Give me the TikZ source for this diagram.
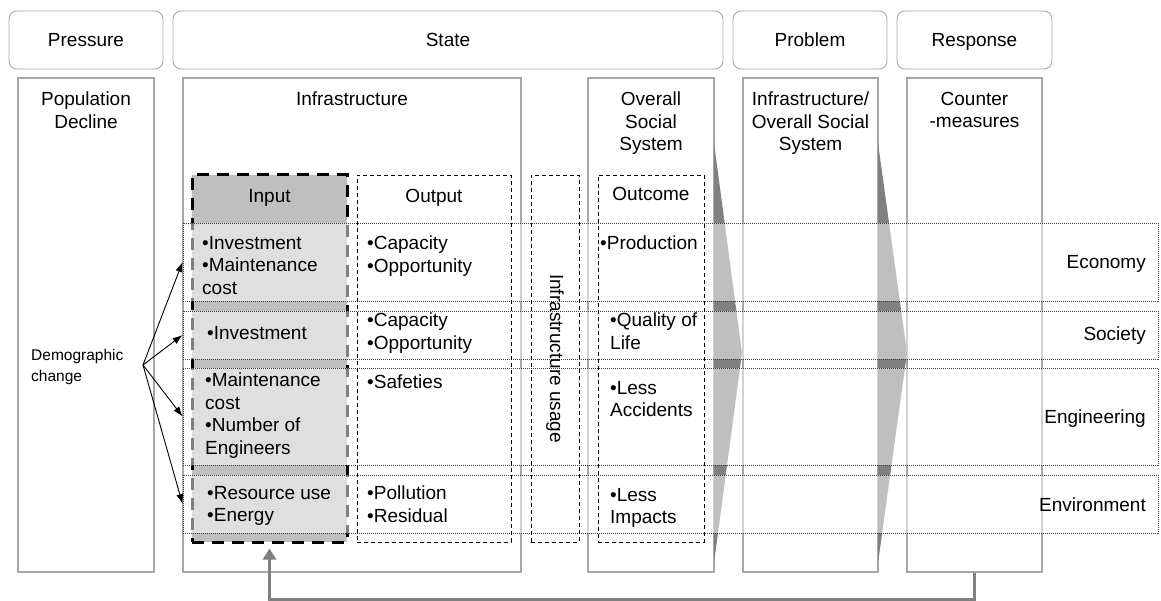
\documentclass[tikz,border=0pt]{standalone}
\usepackage{fontspec}
\setmainfont{Liberation Sans}
\usetikzlibrary{arrows.meta, positioning, fit}
\definecolor{frame}{HTML}{A6A6A6}
\definecolor{wedge}{HTML}{808080}
\definecolor{inputfill}{HTML}{BFBFBF}

\begin{document}
\begin{tikzpicture}[
      x=1pt, y=-1pt, >=Latex,
      every node/.style={font=\fontsize{19}{22.5}\selectfont},
      hdr/.style={draw=frame, rounded corners=8pt, line width=0.9pt, inner sep=0pt},
      hdrtext/.style={text height=13.6pt, text depth=0pt, inner sep=0pt},
      col/.style={draw=frame, line width=1.2pt, inner sep=0pt},
      inbox/.style={draw=black, fill=inputfill, line width=3pt,
                    dash pattern=on 12pt off 8pt, inner sep=0pt},
      subbox/.style={draw=black, line width=0.9pt, dash pattern=on 4pt off 3pt,
                     inner sep=0pt},
      band/.style={draw=black!75, line width=0.9pt, dash pattern=on 1pt off 1pt,
                   fill=white, fill opacity=0.5, inner sep=0pt},
      coltext/.style={anchor=north, align=center, inner sep=0pt},
      cell/.style={anchor=north west, align=left, inner sep=0pt},
      rowlabel/.style={anchor=east, inner sep=0pt},
      small/.style={font=\fontsize{15.5}{21}\selectfont, align=left, inner sep=0pt},
      fan/.style={->, line width=0.9pt, >={Latex[length=10pt, width=7pt]}},
      feedback/.style={draw=wedge, line width=3.5pt,
                       -{Triangle[length=11pt, width=13pt]}, shorten >=5pt},
    ]
    \useasboundingbox (0,0) rectangle (1161,601);

    % headings
    \node[hdr, fit={(9,11) (163,69)}]    (pres)  {};
    \node[hdr, fit={(173,11) (723,69)}]  (state) {};
    \node[hdr, fit={(733,11) (887,69)}]  (prob)  {};
    \node[hdr, fit={(897,11) (1052,69)}] (resp)  {};
    \node[hdrtext] at (pres.center)  (prest)  {Pressure};
    \node[hdrtext] at (state.center) (statet) {State};
    \node[hdrtext] at (prob.center)  (probht) {Problem};
    \node[hdrtext] at (resp.center)  (respt)  {Response};

    % columns
    \node[col, fit={(18,78) (154,572)}]   (pop)   {};
    \node[col, fit={(183,78) (521,572)}]  (infra) {};
    \node[col, fit={(588,78) (714,572)}]  (oss)   {};
    \node[col, fit={(743,78) (878,572)}]  (probc) {};
    \node[col, fit={(907,78) (1042,572)}] (cnt)   {};

    \fill[wedge] (714,143) -- (742,353) -- (714,563) -- cycle;
    \fill[wedge] (878,143) -- (907,353) -- (878,563) -- cycle;

    \node[inbox, fit={(192,175) (347,542)}] (inp) {};

    % rows
    \node[band, fit={(183,223) (1158,301)}] (econ) {};
    \node[band, fit={(183,311) (1158,359)}] (soc)  {};
    \node[band, fit={(183,368) (1158,465)}] (eng)  {};
    \node[band, fit={(183,475) (1158,533)}] (env)  {};

    \node[subbox, fit={(357,175) (511,542)}] (outp)  {};
    \node[subbox, fit={(531,175) (579,542)}] (usage) {};
    \node[subbox, fit={(598,175) (704,542)}] (outc)  {};

    \node[coltext] at (86,92)    (popt)   {Population\\Decline};
    \node[coltext] at (352,92)   (infrat) {Infrastructure};
    \node[coltext] at (651,92)   (osst)   {Overall\\Social\\System};
    \node[coltext] at (810.5,92) (probt)  {Infrastructure/\\Overall Social\\System};
    \node[coltext] at (974.5,92) (cntt)   {Counter\\-measures};

    \node[coltext] at (269.5,189) (inpt)  {Input};
    \node[coltext] at (434,189)   (outpt) {Output};
    \node[coltext] at (651,187)   (outct) {Outcome};
    \node[rotate=-90, inner sep=0pt] at (usage.center) (usaget) {Infrastructure usage};

    \node[cell] at (202,236) (econi) {•Investment\\•Maintenance\\cost};
    \node[cell] at (367,236) (econo) {•Capacity\\•Opportunity};
    \node[cell] at (600,236) (econc) {•Production};
    \node[cell] at (207,326) (soci)  {•Investment};
    \node[cell] at (367,313) (soco)  {•Capacity\\•Opportunity};
    \node[cell] at (610,313) (socc)  {•Quality of\\Life};
    \node[cell] at (205,373) (engi)  {•Maintenance\\cost\\•Number of\\Engineers};
    \node[cell] at (367,375) (engo)  {•Safeties};
    \node[cell] at (610,381) (engc)  {•Less\\Accidents};
    \node[cell] at (207,486) (envi)  {•Resource use\\•Energy};
    \node[cell] at (367,486) (envo)  {•Pollution\\•Residual};
    \node[cell] at (610,488) (envc)  {•Less\\Impacts};

    \node[rowlabel] at (1146,264) (econl) {Economy};
    \node[rowlabel] at (1146,336) (socl)  {Society};
    \node[rowlabel] at (1146,419) (engl)  {Engineering};
    \node[rowlabel] at (1146,505) (envl)  {Environment};

    \node[small, anchor=west] at (31,367) (demo) {Demographic\\change};
    \coordinate (src) at (143,365);

    \draw[fan] (src) -- (econ.west);
    \draw[fan] (src) -- (soc.west);
    \draw[fan] (src) -- (eng.west);
    \draw[fan] (src) -- (env.west);

    \draw[feedback] (cnt.south) -- ++(0,27) -| (inp.south);
  \end{tikzpicture}
\end{document}
